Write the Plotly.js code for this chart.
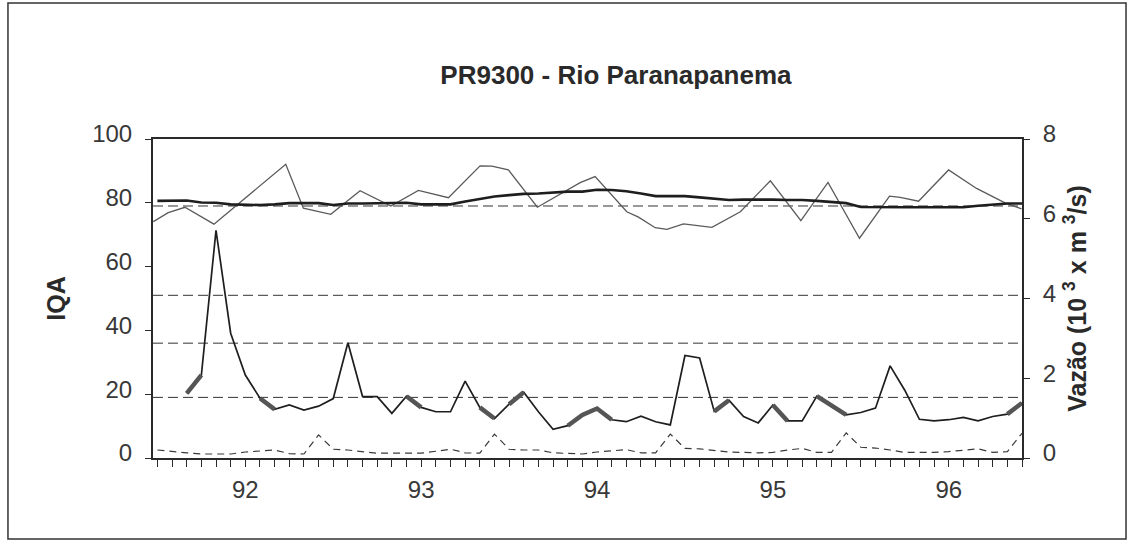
<!DOCTYPE html>
<html><head><meta charset="utf-8">
<script src="https://cdn.plot.ly/plotly-3.0.1.min.js"></script>
<style>html,body{margin:0;padding:0;background:#fff;} #chart{width:1131px;height:549px;}</style>
</head><body><div id="chart"></div>
<script>
// x positions are months counted from Jan 1991 (month 12 = Jan 1992)
const yearTickMonths = [12, 24, 36, 48, 60];
const yearTickLabels = ['92', '93', '94', '95', '96'];

// IQA samples (thin grey line, left axis)
const iqaMonths = [5.72, 6.74, 7.88, 9.86, 14.76, 15.96, 17.83, 19.83, 21.93, 23.81, 25.86, 28.02, 28.82, 29.95, 31.93, 34.85, 35.87, 38.03, 38.83, 39.97, 40.77, 41.9, 43.84, 45.78, 47.83, 49.91, 51.76, 53.91, 55.96, 56.69, 57.94, 59.99, 61.9, 63.84, 64.97];
const iqaValues = [74.1, 76.9, 78.6, 73.3, 92.1, 78.3, 76.4, 83.8, 79.0, 83.9, 81.6, 91.6, 91.5, 90.3, 78.6, 86.3, 88.2, 77.2, 75.5, 72.2, 71.7, 73.4, 72.3, 77.2, 86.9, 74.4, 86.4, 68.9, 82.1, 81.7, 80.5, 90.3, 84.5, 80.0, 78.1];

// monthly series
const refMonths = [6,7,8,9,10,11,12,13,14,15,16,17,18,19,20,21,22,23,24,25,26,27,28,29,30,31,32,33,34,35,36,37,38,39,40,41,42,43,44,45,46,47,48,49,50,51,52,53,54,55,56,57,58,59,60,61,62,63,64,65];
const iqaMean = [80.6,80.6,80.7,80.1,80.0,79.5,79.3,79.3,79.5,79.9,79.9,79.9,79.3,79.8,79.8,79.9,80.0,80.0,79.5,79.5,79.5,80.4,81.2,82.0,82.4,82.8,82.9,83.2,83.5,83.5,84.1,84.0,83.6,82.9,82.1,82.1,82.1,81.7,81.3,80.9,81.0,81.1,81.0,80.9,80.9,80.6,80.3,79.9,78.7,78.6,78.6,78.6,78.6,78.6,78.6,78.6,79.1,79.5,79.8,79.8];
const lowFlowValues = [0.20,0.16,0.13,0.10,0.10,0.10,0.15,0.18,0.20,0.11,0.10,0.58,0.22,0.20,0.16,0.12,0.12,0.12,0.12,0.17,0.22,0.13,0.12,0.60,0.22,0.20,0.20,0.13,0.11,0.10,0.15,0.18,0.21,0.13,0.13,0.60,0.24,0.23,0.19,0.15,0.14,0.13,0.14,0.20,0.24,0.14,0.14,0.63,0.27,0.25,0.20,0.14,0.14,0.14,0.16,0.20,0.23,0.14,0.16,0.62];

// flow (right axis, 10^3 m3/s)
const flowMonths = [8,9,10,11,12,13,14,15,16,17,18,19,20,21,22,23,24,25,26,27,28,29,30,31,32,33,34,35,36,37,38,39,40,41,42,43,44,45,46,47,48,49,50,51,52,53,54,55,56,57,58,59,60,61,62,63,64,65];
const flowValues = [1.62,2.08,5.71,3.13,2.08,1.50,1.22,1.33,1.20,1.30,1.49,2.89,1.54,1.54,1.12,1.55,1.27,1.16,1.16,1.93,1.27,0.99,1.35,1.65,1.16,0.72,0.81,1.08,1.24,0.96,0.91,1.05,0.91,0.83,2.57,2.51,1.17,1.45,1.04,0.88,1.33,0.93,0.93,1.55,1.30,1.08,1.14,1.25,2.31,1.70,0.97,0.93,0.96,1.02,0.93,1.04,1.10,1.38];
const flowThickSegments = [[8,9],[13,14],[23,24],[28,29],[30,31],[34,37],[44,45],[48,49],[51,53],[64,65]];

// IQA class limits (dashed reference lines)
const iqaClassLimits = [79, 51, 36, 19];

const thickX = [], thickY = [];
flowThickSegments.forEach(function (seg) {
  flowMonths.forEach(function (m, i) {
    if (m >= seg[0] && m <= seg[1]) { thickX.push(m); thickY.push(flowValues[i]); }
  });
  thickX.push(null); thickY.push(null);
});

const FONT = '"Liberation Sans", Arial, Helvetica, sans-serif';
const INK = '#2a2a2a';
const LABEL = '#383838';

const traces = [
  { x: refMonths, y: lowFlowValues, yaxis: 'y2', mode: 'lines', line: { color: '#3a3a3a', width: 1.2, dash: '7px,5px' }, hoverinfo: 'skip' },
  { x: flowMonths, y: flowValues, yaxis: 'y2', mode: 'lines', line: { color: '#1e1e1e', width: 1.7 } },
  { x: thickX, y: thickY, yaxis: 'y2', mode: 'lines', connectgaps: false, line: { color: '#555', width: 4.5 } },
  { x: iqaMonths, y: iqaValues, yaxis: 'y', mode: 'lines', line: { color: '#5a5a5a', width: 1.3 } },
  { x: refMonths, y: iqaMean, yaxis: 'y', mode: 'lines', line: { color: '#1e1e1e', width: 2.6 } }
];

const shapes = iqaClassLimits.map(function (v) {
  return { type: 'line', xref: 'paper', yref: 'y', x0: 0, x1: 1, y0: v, y1: v, layer: 'below',
           line: { color: '#333', width: 1, dash: '10px,5px' } };
});
shapes.push({ type: 'rect', xref: 'paper', yref: 'paper', x0: -0.1669, x1: 1.1197, y0: -0.2539, y1: 1.4263,
              line: { color: '#333', width: 1.5 }, fillcolor: 'rgba(0,0,0,0)' });

const layout = {
  width: 1131, height: 549,
  margin: { l: 153, r: 109, t: 139, b: 91 },
  paper_bgcolor: '#fff', plot_bgcolor: '#fff',
  showlegend: false,
  font: { family: FONT, color: INK, size: 24 },
  title: { text: 'PR9300 - Rio Paranapanema', x: 0.5446, xref: 'container', xanchor: 'center',
           y: 0.8634, yref: 'container', yanchor: 'middle',
           font: { family: FONT, size: 26, weight: 'bold', color: INK } },
  xaxis: {
    range: [5.7, 65], tickmode: 'array', tickvals: yearTickMonths, ticktext: yearTickLabels,
    ticks: 'outside', ticklen: 7, tickwidth: 1, tickcolor: INK,
    minor: { tickmode: 'linear', tick0: 0, dtick: 1, ticks: 'outside', ticklen: 7, tickwidth: 1, tickcolor: INK },
    showline: true, linecolor: INK, linewidth: 2, mirror: true,
    showgrid: false, zeroline: false, ticklabelstandoff: 2,
    tickfont: { family: FONT, size: 24, color: LABEL }
  },
  yaxis: {
    range: [0, 100], tickvals: [0, 20, 40, 60, 80, 100],
    ticks: 'outside', ticklen: 6, tickwidth: 1, tickcolor: INK,
    showline: true, linecolor: INK, linewidth: 2,
    showgrid: false, zeroline: false, ticklabelstandoff: 8, ticklabelshift: -5,
    tickfont: { family: FONT, size: 24, color: LABEL },
    title: { text: 'IQA', standoff: 19, font: { family: FONT, size: 25, weight: 'bold', color: INK } }
  },
  yaxis2: {
    range: [0, 8], tickvals: [0, 2, 4, 6, 8], overlaying: 'y', side: 'right',
    ticks: 'outside', ticklen: 6, tickwidth: 1, tickcolor: INK,
    showline: true, linecolor: INK, linewidth: 2,
    showgrid: false, zeroline: false, ticklabelstandoff: 8, ticklabelshift: -5,
    tickfont: { family: FONT, size: 24, color: LABEL },
    title: { text: 'Vazão (10 <sup>3</sup> x m <sup>3</sup>/s)', standoff: 13, font: { family: FONT, size: 25, weight: 'bold', color: INK } }
  },
  shapes: shapes
};

Plotly.newPlot('chart', traces, layout, { displayModeBar: false, staticPlot: true });
</script>
</body></html>
